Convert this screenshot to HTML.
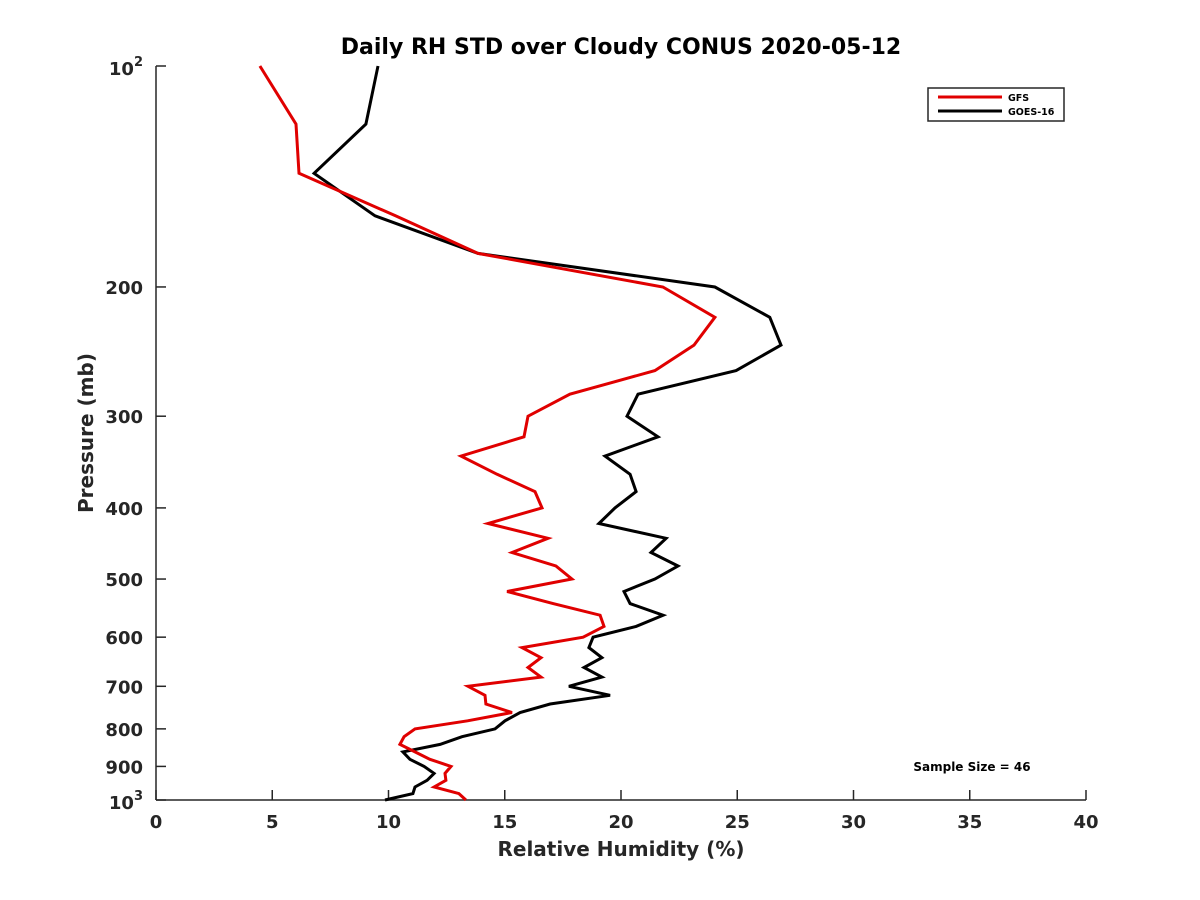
<!DOCTYPE html>
<html><head><meta charset="utf-8"><style>
body{margin:0;background:#fff;}
svg{display:block;font-family:"DejaVu Sans","Liberation Sans",sans-serif;}
</style></head><body>
<svg id="chart" width="1200" height="900" viewBox="0 0 1200 900">
<rect width="1200" height="900" fill="#fff"/>
<text x="621" y="54" text-anchor="middle" font-size="22" font-weight="bold" fill="#000">Daily RH STD over Cloudy CONUS 2020-05-12</text>
<g id="axes"></g>
<g id="series"></g>
<g>
<rect x="928" y="88" width="136" height="33" fill="#fff" stroke="#262626" stroke-width="1.5"/>
<line x1="938" y1="97" x2="1002" y2="97" stroke="#e00000" stroke-width="3"/>
<text x="1008" y="101" font-size="9.5" font-weight="bold" fill="#000">GFS</text>
<line x1="938" y1="111" x2="1002" y2="111" stroke="#000" stroke-width="3"/>
<text x="1008" y="115" font-size="9.5" font-weight="bold" fill="#000">GOES-16</text>
</g>
<text x="972" y="771" text-anchor="middle" font-size="12" font-weight="bold" fill="#000">Sample Size = 46</text>
</svg>
<script>
const levels = [100,120,140,160,180,200,220,240,260,280,300,320,340,360,380,400,420,440,460,480,500,520,540,560,580,600,620,640,660,680,700,720,740,760,780,800,820,840,860,880,900,920,940,960,980,1000];
const gfs = [4.47,6.02,6.15,10.3,13.85,21.8,24.04,23.14,21.46,17.8,16.0,15.83,13.12,14.67,16.3,16.6,14.28,16.86,15.31,17.2,17.89,15.1,17.08,19.1,19.27,18.37,15.74,16.56,16.0,16.56,13.42,14.15,14.19,15.31,13.4,11.14,10.67,10.49,11.14,11.78,12.69,12.43,12.47,11.96,13.03,13.33];
const goes = [9.55,9.03,6.8,9.42,13.85,24.04,26.4,26.88,24.95,20.73,20.26,21.59,19.31,20.39,20.65,19.74,19.05,21.94,21.29,22.45,21.46,20.13,20.39,21.81,20.65,18.8,18.62,19.18,18.41,19.18,17.76,19.53,16.95,15.66,15.01,14.58,13.16,12.22,10.62,10.92,11.53,11.96,11.66,11.14,11.05,9.85];
const xTicks = [0,5,10,15,20,25,30,35,40];
const yTicks = [200,300,400,500,600,700,800,900];

const NS="http://www.w3.org/2000/svg";
const X0=156,X1=1086,Y0=66,Y1=800;
function xs(v){return X0+(v-0)/(40-0)*(X1-X0);}
function ys(p){return Y0+(Math.log10(p)-2)*(Y1-Y0);}
function mk(tag,attrs,parent){const e=document.createElementNS(NS,tag);for(const k in attrs)e.setAttribute(k,attrs[k]);parent.appendChild(e);return e;}
const ax=document.getElementById('axes');
const C="#262626";
let e;
e=mk('line',{x1:X0,y1:Y0,x2:X0,y2:Y1,stroke:C,'stroke-width':1.5},ax);


e=mk('line',{x1:X0,y1:Y1,x2:X1,y2:Y1,stroke:C,'stroke-width':1.5},ax);


xTicks.forEach(v=>{
  const x=xs(v);
  let t=mk('line',{x1:x,y1:Y1,x2:x,y2:Y1-10,stroke:C,'stroke-width':1.5},ax);
  
  
  let l=mk('text',{x:x,y:Y1+28,'text-anchor':'middle','font-size':18,'font-weight':'bold',fill:C},ax);
  l.textContent=v;
  
  
});
[100].concat(yTicks,[1000]).forEach(p=>{
  const y=ys(p);
  let t=mk('line',{x1:X0,y1:y,x2:X0+10,y2:y,stroke:C,'stroke-width':1.5},ax);
  
  
});
yTicks.forEach(p=>{
  let l=mk('text',{x:X0-13,y:ys(p)+7,'text-anchor':'end','font-size':18,'font-weight':'bold',fill:C},ax);
  l.textContent=p;
  
  
});
[[100,'2'],[1000,'3']].forEach(([p,s])=>{
  let l=mk('text',{x:X0-13,y:ys(p)+9,'text-anchor':'end','font-size':18,'font-weight':'bold',fill:C},ax);
  l.textContent='10';
  
  
  let sp=mk('tspan',{dy:-9,'font-size':13},l);
  sp.textContent=s;
});
e=mk('text',{x:621,y:856,'text-anchor':'middle','font-size':20,'font-weight':'bold',fill:C},ax);
e.textContent='Relative Humidity (%)';


e=mk('text',{x:0,y:0,'text-anchor':'middle','font-size':20,'font-weight':'bold',fill:C,transform:'translate(93,433) rotate(-90)'},ax);
e.textContent='Pressure (mb)';



const sg=document.getElementById('series');
function line(vals,color,name){
  const d=vals.map((v,i)=>(i?'L':'M')+xs(v).toFixed(1)+','+ys(levels[i]).toFixed(1)).join(' ');
  const p=mk('path',{d:d,fill:'none',stroke:color,'stroke-width':3,'stroke-linejoin':'miter'},sg);
  
  
}
line(goes,'#000','goes-16-line');
line(gfs,'#e00000','gfs-line');
</script>
</body></html>
